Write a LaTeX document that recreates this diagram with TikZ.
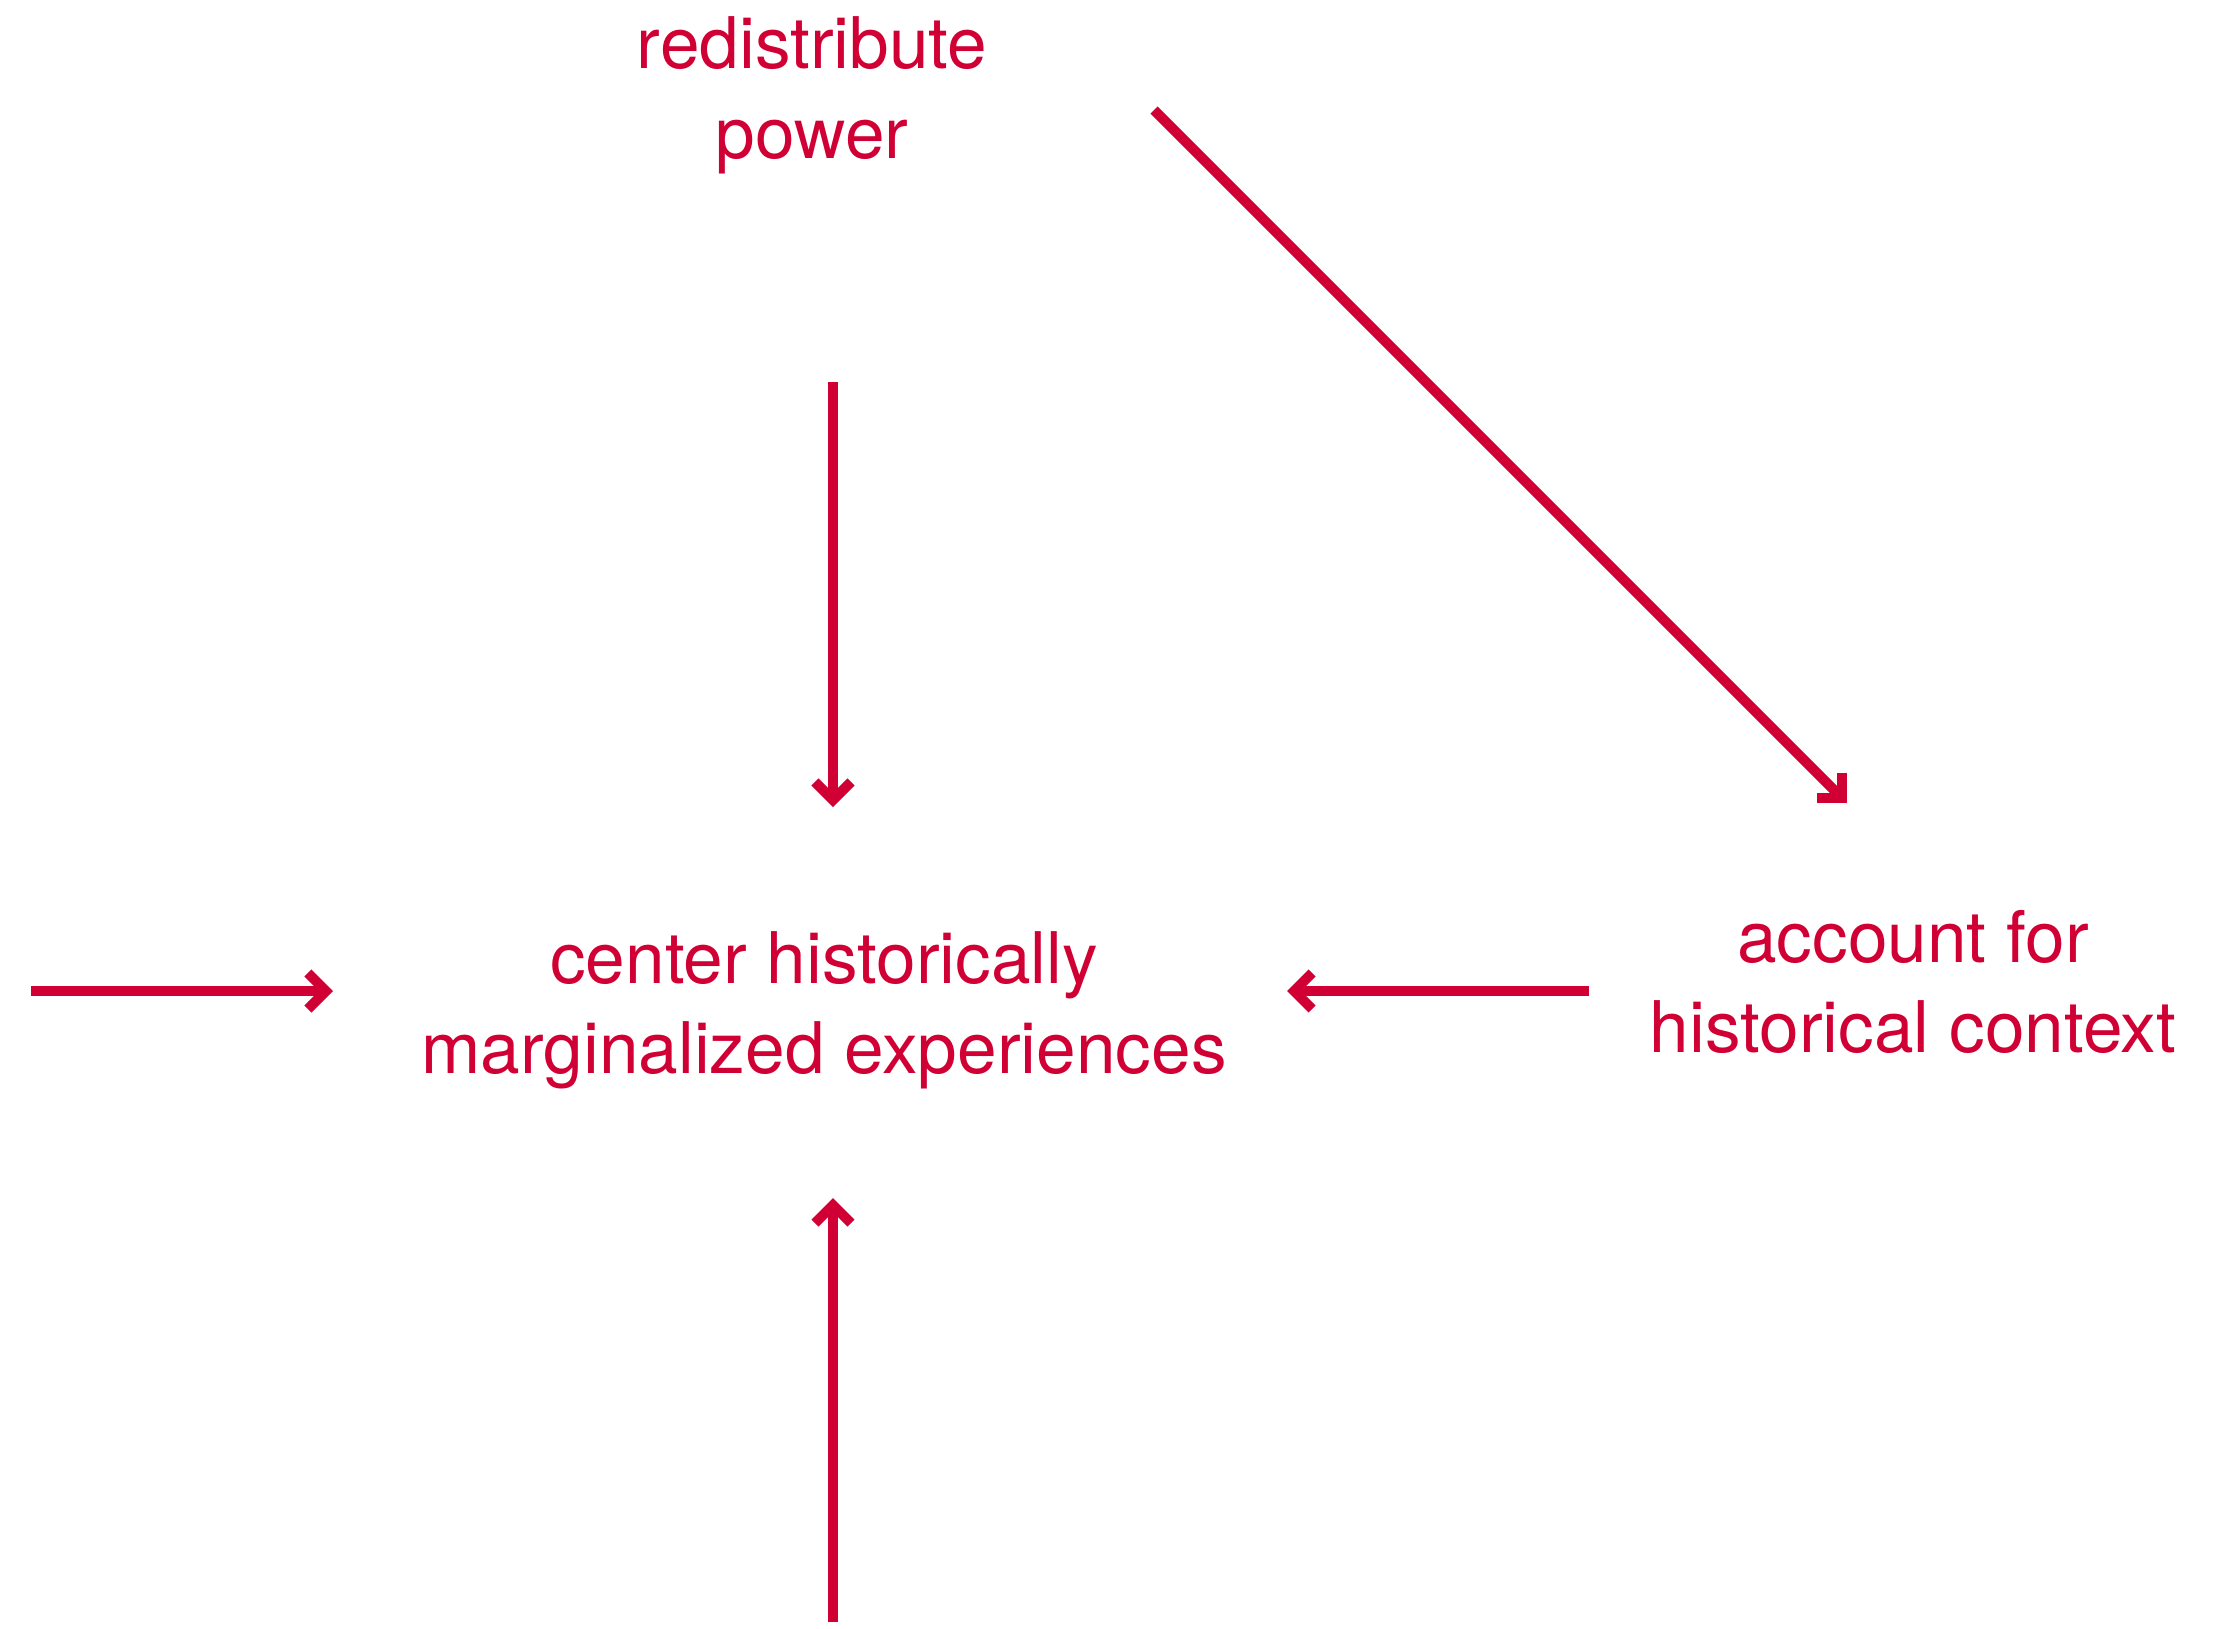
\documentclass[tikz,border=0pt]{standalone}
\usepackage{fontspec}
\setmainfont{TeX Gyre Heros}
\usetikzlibrary{arrows.meta}
\definecolor{crim}{RGB}{208,0,53}
\begin{document}
\begin{tikzpicture}[x=0.5pt,y=-0.5pt,
  lbl/.style={text=crim, align=center, inner sep=0pt, anchor=base,
    font=\fontsize{35.6pt}{44.8pt}\selectfont},
  arr/.style={draw=crim, line width=5pt,
    -{Straight Barb[length=9pt,width=18pt,line join=miter]}}]
\useasboundingbox (0,0) rectangle (2217,1628);
\node[lbl] (rp) at (812,158) {redistribute\\power};
\node[lbl] (ch) at (824,1073) {center historically\\marginalized experiences};
\node[lbl] (ah) at (1913,1052) {account for\\historical context};
\coordinate (topS) at (833,382);
\coordinate (topE) at (833,807);
\coordinate (botS) at (833,1622);
\coordinate (botE) at (833,1198);
\coordinate (lftS) at (31,991);
\coordinate (lftE) at (333,991);
\coordinate (rgtS) at (1589,991);
\coordinate (rgtE) at (1287,991);
\coordinate (dgS) at (1154,110);
\coordinate (dgE) at (1847,803);
\draw[arr] (topS) -- (topE);
\draw[arr] (botS) -- (botE);
\draw[arr] (lftS) -- (lftE);
\draw[arr] (rgtS) -- (rgtE);
\draw[arr] (dgS) -- (dgE);
\end{tikzpicture}
\end{document}
